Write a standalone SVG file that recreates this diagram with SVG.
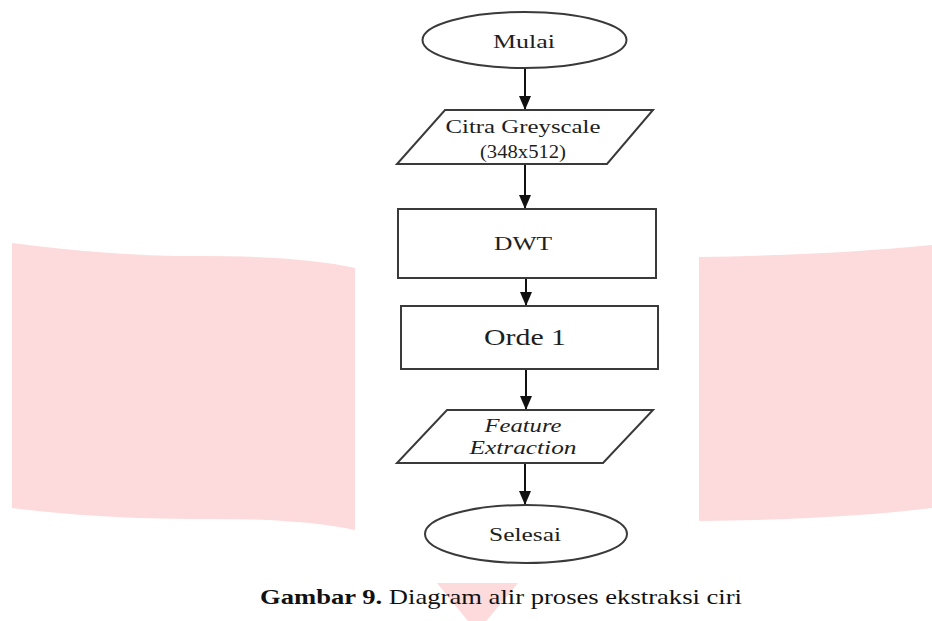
<svg xmlns="http://www.w3.org/2000/svg" width="932" height="621" viewBox="0 0 932 621">
<style>
.bg{fill:#fddadb;stroke:none}
.node{fill:#fff;stroke:#3a3a3a;stroke-width:2}
.lbl{font-family:"Liberation Serif","Times New Roman",serif;fill:#1e1e1e;text-anchor:middle}
.conn{stroke:#111;stroke-width:2;fill:none;marker-end:url(#ah)}
.cap{font-family:"Liberation Serif","Times New Roman",serif;fill:#111;font-size:22px}
</style>
<defs>
<marker id="ah" viewBox="0 0 14 12" refX="14" refY="6" markerWidth="14" markerHeight="12" markerUnits="userSpaceOnUse" orient="auto">
<path d="M0,0 L14,6 L0,12 Z" fill="#111"/>
</marker>
</defs>
<g id="background">
<path class="bg" d="M12,243 Q120,257 200,256 Q300,256 355,268 L355,530 Q300,518 200,519 Q100,519 12,508 Z"/>
<path class="bg" d="M699,257 Q830,255 932,245 L932,508 Q830,520 699,521 Z"/>
<path class="bg" d="M437,583 L518,583 L477,632 Z"/>
</g>
<g id="connectors">
<line class="conn" x1="525" y1="68" x2="525" y2="110"/>
<line class="conn" x1="525" y1="164" x2="525" y2="209"/>
<line class="conn" x1="526" y1="278" x2="526" y2="306"/>
<line class="conn" x1="526" y1="369" x2="526" y2="410"/>
<line class="conn" x1="525" y1="463" x2="525" y2="505"/>
</g>
<g id="mulai">
<ellipse class="node" cx="524.5" cy="40" rx="102" ry="28"/>
<text class="lbl" x="524" y="48" font-size="19" textLength="62" lengthAdjust="spacingAndGlyphs">Mulai</text>
</g>
<g id="citra">
<polygon class="node" points="445,110 653,110 607,164 397,164"/>
<text class="lbl" x="523" y="133" font-size="19" textLength="155" lengthAdjust="spacingAndGlyphs">Citra Greyscale</text>
<text class="lbl" x="523" y="158" font-size="19" textLength="86" lengthAdjust="spacingAndGlyphs">(348x512)</text>
</g>
<g id="dwt">
<rect class="node" x="398" y="209" width="258" height="69"/>
<text class="lbl" x="523" y="250" font-size="18" textLength="58" lengthAdjust="spacingAndGlyphs">DWT</text>
</g>
<g id="orde1">
<rect class="node" x="401" y="306" width="257" height="63"/>
<text class="lbl" x="525" y="345" font-size="24" textLength="82" lengthAdjust="spacingAndGlyphs">Orde 1</text>
</g>
<g id="feature">
<polygon class="node" points="447,410 653,410 603,463 397,463"/>
<text class="lbl" x="523" y="432" font-size="19" font-style="italic" textLength="77" lengthAdjust="spacingAndGlyphs">Feature</text>
<text class="lbl" x="523" y="454" font-size="19" font-style="italic" textLength="107" lengthAdjust="spacingAndGlyphs">Extraction</text>
</g>
<g id="selesai">
<ellipse class="node" cx="526" cy="534" rx="101" ry="29"/>
<text class="lbl" x="525" y="541" font-size="19" textLength="72" lengthAdjust="spacingAndGlyphs">Selesai</text>
</g>
<text class="cap" x="260" y="604" textLength="482" lengthAdjust="spacingAndGlyphs"><tspan font-weight="bold">Gambar 9.</tspan> Diagram alir proses ekstraksi ciri</text>
</svg>
